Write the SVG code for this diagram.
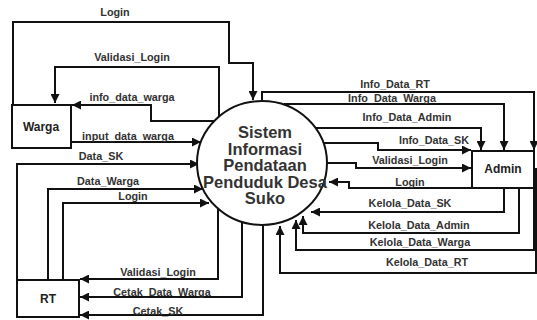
<svg xmlns="http://www.w3.org/2000/svg" width="537" height="320" viewBox="0 0 537 320">
<defs>
<marker id="ah" viewBox="0 0 10 10" refX="10" refY="5" markerWidth="9" markerHeight="9" markerUnits="userSpaceOnUse" orient="auto">
<path d="M0,0 L10,5 L0,10 z" fill="#111"/>
</marker>
<style>
.c{fill:none;stroke:#111;stroke-width:2;marker-end:url(#ah)}
.box{fill:#fff;stroke:#111;stroke-width:2}
.lb{font-family:"Liberation Sans",Arial,sans-serif;font-weight:bold;font-size:10.8px;fill:#333;text-anchor:middle}
.bt{font-family:"Liberation Sans",Arial,sans-serif;font-weight:bold;font-size:12px;fill:#222;text-anchor:middle}
.pt{font-family:"Liberation Sans",Arial,sans-serif;font-weight:bold;font-size:16.5px;fill:#333;text-anchor:middle}
</style>
</defs>
<rect width="537" height="320" fill="#fff"/>
<g id="connectors">
<path class="c" d="M13,105 V22 H229 V63 H253 V100"/>
<path class="c" d="M219,120 V67 H55 V103"/>
<path class="c" d="M221,121 H151 V105 H72"/>
<path class="c" d="M71,142 H201"/>
<path class="c" d="M17,280 V164 H199"/>
<path class="c" d="M48,280 V189 H203"/>
<path class="c" d="M63,280 V203 H209"/>
<path class="c" d="M218,208 V279 H80"/>
<path class="c" d="M242,222 V297 H80"/>
<path class="c" d="M263,225 V315 H80"/>
<path class="c" d="M262,100 V92 H534 V150"/>
<path class="c" d="M284,104 H504 V150"/>
<path class="c" d="M316,128 H481 V150"/>
<path class="c" d="M324,143 H378 V150 H471"/>
<path class="c" d="M327,163 H356 V168 H471"/>
<path class="c" d="M472,188 H349 V182 H329"/>
<path class="c" d="M504,188 V212 H311"/>
<path class="c" d="M519,188 V233 H303 V216"/>
<path class="c" d="M534,188 V250 H296 V220"/>
<path class="c" d="M534,169 H536 V273 H280 V226"/>
</g>
<g id="labels">
<text class="lb" x="115" y="16">Login</text>
<text class="lb" x="132" y="61">Validasi_Login</text>
<text class="lb" x="132" y="101">info_data_warga</text>
<text class="lb" x="128" y="140">input_data_warga</text>
<text class="lb" x="101" y="160">Data_SK</text>
<text class="lb" x="108" y="185">Data_Warga</text>
<text class="lb" x="133" y="200">Login</text>
<text class="lb" x="158" y="276">Validasi_Login</text>
<text class="lb" x="162" y="296">Cetak_Data_Warga</text>
<text class="lb" x="158" y="315">Cetak_SK</text>
<text class="lb" x="395" y="88">Info_Data_RT</text>
<text class="lb" x="392" y="102">Info_Data_Warga</text>
<text class="lb" x="407" y="121">Info_Data_Admin</text>
<text class="lb" x="434" y="144">Info_Data_SK</text>
<text class="lb" x="410" y="164">Validasi_Login</text>
<text class="lb" x="410" y="186">Login</text>
<text class="lb" x="410" y="207">Kelola_Data_SK</text>
<text class="lb" x="419" y="229">Kelola_Data_Admin</text>
<text class="lb" x="420" y="246">Kelola_Data_Warga</text>
<text class="lb" x="427" y="266">Kelola_Data_RT</text>
</g>
<g id="warga">
<rect class="box" x="12" y="105" width="59" height="43"/>
<text class="bt" x="41" y="131">Warga</text>
</g>
<g id="rt">
<rect class="box" x="17" y="280" width="62" height="37"/>
<text class="bt" x="48" y="303">RT</text>
</g>
<g id="admin">
<rect class="box" x="472" y="151" width="62" height="37"/>
<text class="bt" x="503" y="173">Admin</text>
</g>
<g id="sistem">
<ellipse class="box" cx="262" cy="163" rx="65" ry="62"/>
<text class="pt" x="265" y="138">Sistem</text>
<text class="pt" x="265" y="154.5">Informasi</text>
<text class="pt" x="265" y="171">Pendataan</text>
<text class="pt" x="265" y="187.5">Penduduk Desa</text>
<text class="pt" x="265" y="204">Suko</text>
</g>
</svg>
